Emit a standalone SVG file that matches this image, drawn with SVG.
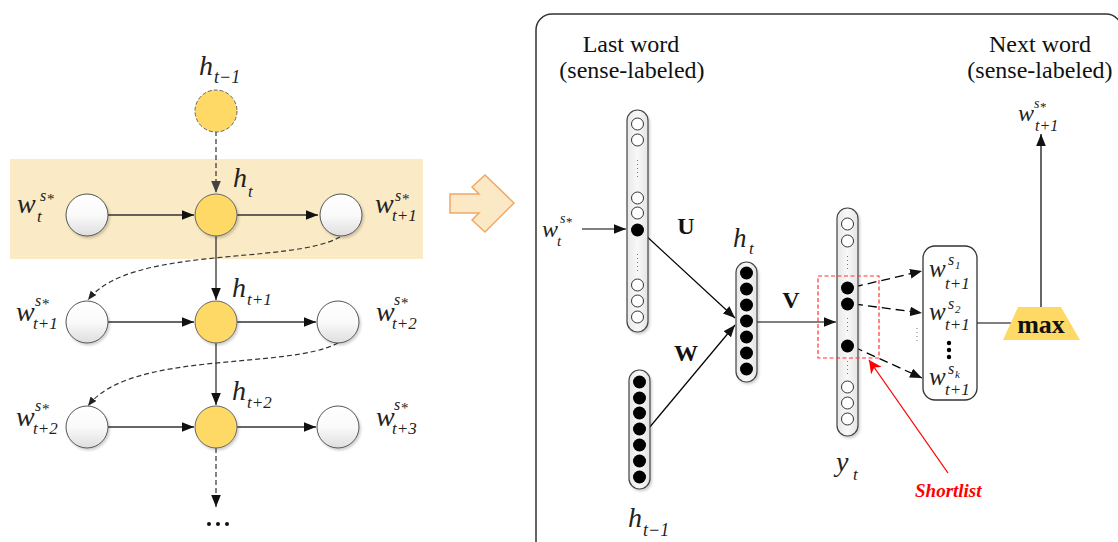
<svg xmlns="http://www.w3.org/2000/svg" width="1118" height="542" viewBox="0 0 1118 542">
<style>
.mi{font-family:"Liberation Serif","Times New Roman",serif;font-style:italic;fill:#222}
.tx{font-family:"Liberation Serif","Times New Roman",serif;fill:#111}
.bd{font-family:"Liberation Serif","Times New Roman",serif;font-weight:bold;fill:#111}
.as{font-family:"Liberation Serif","Times New Roman",serif;fill:#222}
.wc{fill:url(#wg);stroke:#555;stroke-width:1;filter:url(#sh)}
.yc{fill:#FFD966;stroke:#666;stroke-width:1;filter:url(#sh)}
.pill{fill:url(#pg);stroke:#444;stroke-width:1.2;filter:url(#sh)}
.hol{fill:#fff;stroke:#333;stroke-width:1}
.blk{fill:#000}
.dots{stroke:#777;stroke-width:1;stroke-dasharray:1 3}
.ln{stroke:#000;stroke-width:1.2;fill:none}
.lg{stroke:#333;stroke-width:1.3;fill:none}
.dl{stroke:#333;stroke-width:1.2;fill:none;stroke-dasharray:5 3}
.dr{stroke:#000;stroke-width:1.3;fill:none;stroke-dasharray:9 5}
</style>
<defs>
<filter id="sh" x="-30%" y="-30%" width="160%" height="160%"><feDropShadow dx="1.5" dy="2" stdDeviation="1.2" flood-color="#000" flood-opacity="0.18"/></filter>
<linearGradient id="wg" x1="0" y1="0" x2="0" y2="1"><stop offset="0" stop-color="#fff"/><stop offset="0.5" stop-color="#fafafa"/><stop offset="1" stop-color="#dedede"/></linearGradient>
<linearGradient id="pg" x1="0" y1="0" x2="1" y2="0"><stop offset="0" stop-color="#e8e8e8"/><stop offset="0.5" stop-color="#f8f8f8"/><stop offset="1" stop-color="#e4e4e4"/></linearGradient>
<marker id="ab" viewBox="0 0 10 8" refX="10" refY="4" markerWidth="12" markerHeight="10" markerUnits="userSpaceOnUse" orient="auto"><path d="M0,0 L10,4 L0,8 z" fill="#111"/></marker>
<marker id="as" viewBox="0 0 10 8" refX="10" refY="4" markerWidth="9" markerHeight="8" markerUnits="userSpaceOnUse" orient="auto"><path d="M0,0 L10,4 L0,8 z" fill="#222"/></marker>
<marker id="ag" viewBox="0 0 10 8" refX="10" refY="4" markerWidth="12" markerHeight="10" markerUnits="userSpaceOnUse" orient="auto"><path d="M0,0 L10,4 L0,8 z" fill="#444"/></marker>
<marker id="ar" viewBox="0 0 10 10" refX="10" refY="5" markerWidth="13" markerHeight="13" markerUnits="userSpaceOnUse" orient="auto"><path d="M0,0 L10,5 L0,10 L3,5 z" fill="#f00"/></marker>
</defs>
<rect width="1118" height="542" fill="#fff"/>

<!-- left panel -->
<rect id="band" x="10" y="159" width="413" height="100" fill="#FAEAC5"/>

<g id="connectors">
<line class="dl" x1="216" y1="131" x2="216" y2="193" stroke="#555" marker-end="url(#ag)"/>
<line class="lg" x1="108" y1="215" x2="194" y2="215" marker-end="url(#ab)"/>
<line class="lg" x1="237" y1="215" x2="318" y2="215" marker-end="url(#ab)"/>
<line class="lg" x1="216" y1="236" x2="216" y2="300" marker-end="url(#ab)"/>
<line class="lg" x1="108" y1="322" x2="194" y2="322" marker-end="url(#ab)"/>
<line class="lg" x1="237" y1="322" x2="316" y2="322" marker-end="url(#ab)"/>
<line class="lg" x1="216" y1="343" x2="216" y2="405" marker-end="url(#ab)"/>
<line class="lg" x1="108" y1="427" x2="194" y2="427" marker-end="url(#ab)"/>
<line class="lg" x1="237" y1="427" x2="316" y2="427" marker-end="url(#ab)"/>
<line class="dl" x1="216" y1="448" x2="216" y2="507" stroke-dasharray="7 4" marker-end="url(#ab)"/>
<path class="dl" d="M340,237 C290,265 130,245 88,300" marker-end="url(#as)"/>
<path class="dl" d="M338,343 C288,370 130,350 88,406" marker-end="url(#as)"/>

<line class="ln" x1="582" y1="229" x2="626" y2="229" marker-end="url(#ab)"/>
<line class="ln" x1="643" y1="233" x2="735" y2="318" marker-end="url(#ab)"/>
<line class="ln" x1="649" y1="428" x2="735" y2="325" marker-end="url(#ab)"/>
<line class="ln" x1="757" y1="322" x2="836" y2="322" marker-end="url(#ab)"/>
<line class="dr" x1="854" y1="287" x2="922" y2="271" marker-end="url(#ab)"/>
<line class="dr" x1="854" y1="304" x2="922" y2="313" marker-end="url(#ab)"/>
<line class="dr" x1="854" y1="347" x2="922" y2="378" marker-end="url(#ab)"/>
<line class="ln" x1="977" y1="323" x2="1012" y2="323"/>
<line class="ln" x1="1041" y1="307" x2="1041" y2="134" marker-end="url(#ab)"/>
<line x1="948" y1="473" x2="869" y2="360" stroke="#f00" stroke-width="1.3" marker-end="url(#ar)"/>
</g>

<g id="h_tm1_node">
<circle cx="216" cy="111" r="21" fill="#FFD966" stroke="#666" stroke-dasharray="4 2"/>
<text class="mi" x="199" y="75" font-size="28">h</text><text class="mi" x="214" y="83" font-size="18">t−1</text>
</g>
<g id="row1">
<circle class="wc" cx="87" cy="215" r="21"/>
<circle class="yc" cx="216" cy="215" r="21"/>
<circle class="wc" cx="341" cy="215" r="21"/>
<text class="mi" x="17" y="213" font-size="28">w</text><text class="mi" x="40" y="201" font-size="16">s</text><text class="as" x="47" y="204" font-size="15">*</text><text class="mi" x="37" y="222" font-size="17">t</text>
<text class="mi" x="233" y="187" font-size="28">h</text><text class="mi" x="248" y="197" font-size="17">t</text>
<text class="mi" x="375" y="213" font-size="28">w</text><text class="mi" x="395" y="201" font-size="16">s</text><text class="as" x="402" y="204" font-size="15">*</text><text class="mi" x="392" y="221" font-size="17">t+1</text>
</g>
<g id="row2">
<circle class="wc" cx="87" cy="322" r="21"/>
<circle class="yc" cx="216" cy="322" r="21"/>
<circle class="wc" cx="338" cy="322" r="21"/>
<text class="mi" x="16" y="321" font-size="28">w</text><text class="mi" x="35" y="306" font-size="16">s</text><text class="as" x="42" y="309" font-size="15">*</text><text class="mi" x="33" y="329" font-size="17">t+1</text>
<text class="mi" x="232" y="297" font-size="28">h</text><text class="mi" x="247" y="305" font-size="17">t+1</text>
<text class="mi" x="376" y="321" font-size="28">w</text><text class="mi" x="394" y="305" font-size="16">s</text><text class="as" x="401" y="308" font-size="15">*</text><text class="mi" x="392" y="329" font-size="17">t+2</text>
</g>
<g id="row3">
<circle class="wc" cx="87" cy="427" r="21"/>
<circle class="yc" cx="216" cy="427" r="21"/>
<circle class="wc" cx="338" cy="427" r="21"/>
<text class="mi" x="16" y="426" font-size="28">w</text><text class="mi" x="35" y="411" font-size="16">s</text><text class="as" x="42" y="414" font-size="15">*</text><text class="mi" x="33" y="434" font-size="17">t+2</text>
<text class="mi" x="232" y="400" font-size="28">h</text><text class="mi" x="247" y="408" font-size="17">t+2</text>
<text class="mi" x="376" y="426" font-size="28">w</text><text class="mi" x="394" y="410" font-size="16">s</text><text class="as" x="401" y="413" font-size="15">*</text><text class="mi" x="392" y="434" font-size="17">t+3</text>
</g>
<g id="ellipsis">
<circle cx="209" cy="524" r="2" fill="#111"/><circle cx="218" cy="524" r="2" fill="#111"/><circle cx="227" cy="524" r="2" fill="#111"/>
</g>

<g id="big_arrow">
<polygon points="450,194 479,194 472,187 485,175 514,203 485,232 472,220 479,213 450,213" fill="#FBE9C6" stroke="#F0A868" stroke-width="1.5"/>
</g>

<!-- right panel -->
<g id="panel">
<rect x="536" y="14" width="586" height="560" rx="16" fill="none" stroke="#333" stroke-width="1.5"/>
<text class="tx" x="631" y="52" font-size="24" text-anchor="middle">Last word</text>
<text class="tx" x="632" y="78" font-size="24" text-anchor="middle">(sense-labeled)</text>
<text class="tx" x="1040" y="52" font-size="24" text-anchor="middle">Next word</text>
<text class="tx" x="1040" y="78" font-size="24" text-anchor="middle">(sense-labeled)</text>
</g>

<g id="input_word">
<text class="mi" x="542" y="237" font-size="24">w</text><text class="mi" x="560" y="223" font-size="14">s</text><text class="as" x="566" y="226" font-size="13">*</text><text class="mi" x="557" y="246" font-size="15">t</text>
</g>

<g id="input_layer">
<rect class="pill" x="627" y="110" width="21" height="222" rx="10.5"/>
<circle class="hol" cx="637.5" cy="124" r="6"/>
<circle class="hol" cx="637.5" cy="140" r="6"/>
<line class="dots" x1="637.5" y1="160" x2="637.5" y2="178"/>
<circle class="hol" cx="637.5" cy="198" r="6"/>
<circle class="hol" cx="637.5" cy="213" r="6"/>
<circle class="blk" cx="637.5" cy="230" r="6.5"/>
<line class="dots" x1="637.5" y1="254" x2="637.5" y2="272"/>
<circle class="hol" cx="637.5" cy="285" r="6"/>
<circle class="hol" cx="637.5" cy="301" r="6"/>
<circle class="hol" cx="637.5" cy="317" r="6"/>
<text class="bd" x="686" y="234" font-size="24" text-anchor="middle">U</text>
</g>

<g id="h_prev_layer">
<rect class="pill" x="629" y="370" width="21" height="119" rx="10.5"/>
<circle class="blk" cx="639.5" cy="382" r="6.5"/>
<circle class="blk" cx="639.5" cy="398" r="6.5"/>
<circle class="blk" cx="639.5" cy="413" r="6.5"/>
<circle class="blk" cx="639.5" cy="429" r="6.5"/>
<circle class="blk" cx="639.5" cy="445" r="6.5"/>
<circle class="blk" cx="639.5" cy="461" r="6.5"/>
<circle class="blk" cx="639.5" cy="477" r="6.5"/>
<text class="bd" x="686" y="361" font-size="24" text-anchor="middle">W</text>
<text class="mi" x="628" y="527" font-size="28">h</text><text class="mi" x="643" y="536" font-size="18">t−1</text>
</g>

<g id="h_layer">
<rect class="pill" x="736" y="262" width="21" height="120" rx="10.5"/>
<circle class="blk" cx="746.5" cy="273" r="6.5"/>
<circle class="blk" cx="746.5" cy="289" r="6.5"/>
<circle class="blk" cx="746.5" cy="305" r="6.5"/>
<circle class="blk" cx="746.5" cy="321" r="6.5"/>
<circle class="blk" cx="746.5" cy="337" r="6.5"/>
<circle class="blk" cx="746.5" cy="353" r="6.5"/>
<circle class="blk" cx="746.5" cy="369" r="6.5"/>
<text class="mi" x="733" y="247" font-size="27">h</text><text class="mi" x="749" y="254" font-size="17">t</text>
<text class="bd" x="791" y="308" font-size="24" text-anchor="middle">V</text>
</g>

<g id="output_layer">
<rect class="pill" x="837" y="208" width="21" height="228" rx="10.5"/>
<circle class="hol" cx="847.5" cy="224" r="6"/>
<circle class="hol" cx="847.5" cy="241" r="6"/>
<line class="dots" x1="847.5" y1="256" x2="847.5" y2="272"/>
<circle class="blk" cx="847.5" cy="288" r="6.5"/>
<circle class="blk" cx="847.5" cy="304" r="6.5"/>
<line class="dots" x1="847.5" y1="318" x2="847.5" y2="334"/>
<circle class="blk" cx="847.5" cy="346" r="6.5"/>
<line class="dots" x1="847.5" y1="361" x2="847.5" y2="377"/>
<circle class="hol" cx="847.5" cy="387" r="6"/>
<circle class="hol" cx="847.5" cy="403" r="6"/>
<circle class="hol" cx="847.5" cy="419" r="6"/>
<text class="mi" x="836" y="471" font-size="28">y</text><text class="mi" x="853" y="480" font-size="17">t</text>
</g>

<g id="shortlist">
<rect x="818" y="276" width="61" height="82" fill="none" stroke="#f33" stroke-width="1.2" stroke-dasharray="4 2.5"/>
<text x="915" y="497" font-family="Liberation Serif,serif" font-weight="bold" font-style="italic" font-size="19" fill="#f00">Shortlist</text>
</g>

<g id="sense_list">
<rect x="923" y="246" width="54" height="154" rx="12" fill="#fff" stroke="#333" stroke-width="1.3"/>
<text class="mi" x="929" y="277" font-size="25">w</text><text class="mi" x="948" y="265" font-size="16">s</text><text class="mi" x="955" y="269" font-size="11">1</text><text class="mi" x="945" y="289" font-size="17">t+1</text>
<text class="mi" x="929" y="320" font-size="25">w</text><text class="mi" x="948" y="309" font-size="16">s</text><text class="mi" x="955" y="313" font-size="11">2</text><text class="mi" x="945" y="330" font-size="17">t+1</text>
<circle cx="949" cy="343" r="2.2" fill="#000"/><circle cx="949" cy="350" r="2.2" fill="#000"/><circle cx="949" cy="357" r="2.2" fill="#000"/>
<text class="mi" x="929" y="385" font-size="25">w</text><text class="mi" x="948" y="374" font-size="16">s</text><text class="mi" x="955" y="378" font-size="11">k</text><text class="mi" x="945" y="395" font-size="17">t+1</text>
<line class="dots" x1="917" y1="328" x2="917" y2="343"/>
</g>

<g id="max_node">
<polygon points="1018,307 1061,307 1080,340 1003,340" fill="#FFD966"/>
<text class="bd" x="1041" y="333" font-size="26" text-anchor="middle">max</text>
</g>

<g id="output_word">
<text class="mi" x="1018" y="121" font-size="24">w</text><text class="mi" x="1034" y="108" font-size="14">s</text><text class="as" x="1040" y="111" font-size="13">*</text><text class="mi" x="1035" y="131" font-size="16">t+1</text>
</g>
</svg>
